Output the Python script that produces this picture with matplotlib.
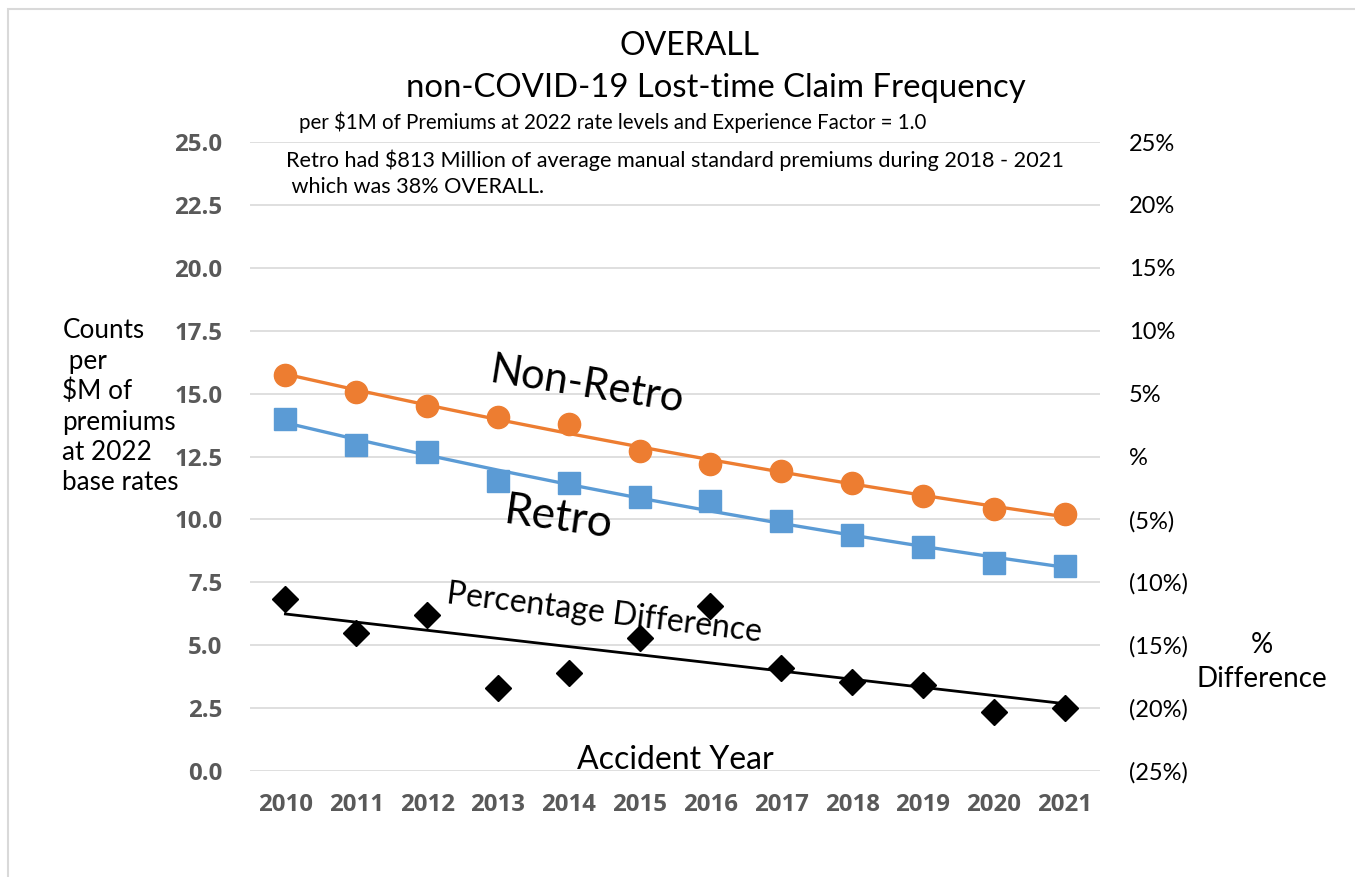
import numpy as np
import matplotlib.pyplot as plt
from matplotlib.patches import Rectangle

plt.rcParams['font.family'] = ['Lato', 'DejaVu Sans']

years = ['2010', '2011', '2012', '2013', '2014', '2015',
         '2016', '2017', '2018', '2019', '2020', '2021']
non_retro = [15.74, 15.06, 14.51, 14.07, 13.79, 12.72, 12.20, 11.92, 11.45, 10.93, 10.41, 10.21]
retro = [13.99, 12.96, 12.68, 11.53, 11.45, 10.89, 10.73, 9.94, 9.38, 8.90, 8.27, 8.15]
pct_diff = [-11.3, -14.0, -12.6, -18.4, -17.2, -14.4, -11.9, -16.8, -17.9, -18.2, -20.3, -20.0]

left_ticks = [0, 2.5, 5, 7.5, 10, 12.5, 15, 17.5, 20, 22.5, 25]
right_ticks = [-25, -20, -15, -10, -5, 0, 5, 10, 15, 20, 25]
right_labels = ['(25%)', '(20%)', '(15%)', '(10%)', '(5%)', '%', '5%', '10%', '15%', '20%', '25%']

orange = '#ED7D31'
blue = '#5B9BD5'
grey = '#595959'

x = np.arange(len(years))

# trend lines: exponential for the frequencies, linear for the difference
def exp_trend(y):
    b, a = np.polyfit(x, np.log(y), 1)
    return np.exp(a + b * x)

nr_fit = exp_trend(non_retro)
r_fit = exp_trend(retro)
pd_fit = np.polyval(np.polyfit(x, pct_diff, 1), x)

fig = plt.figure(figsize=(13.55, 8.77), dpi=100)
ax = fig.add_axes([0.1845, 0.1209, 0.6273, 0.7171])
ax2 = ax.twinx()

ax.set_xlim(-0.5, len(years) - 0.5)
ax.set_ylim(0, 25)
ax2.set_ylim(-25, 25)

for v in left_ticks:
    ax.axhline(v, color='#D9D9D9', linewidth=1.2, zorder=0)

ax.plot(x, nr_fit, color=orange, linewidth=2.4, zorder=2)
ax.plot(x, non_retro, 'o', color=orange, markersize=16, zorder=3)
ax.plot(x, r_fit, color=blue, linewidth=2.4, zorder=2)
ax.plot(x, retro, 's', color=blue, markersize=15.5, zorder=3)
ax2.plot(x, pd_fit, color='black', linewidth=2.0, zorder=2)
ax2.plot(x, pct_diff, 'D', color='black', markersize=13.5, zorder=3)

for a in (ax, ax2):
    for s in a.spines.values():
        s.set_visible(False)
    a.tick_params(length=0)

ax.tick_params(axis='y', pad=20)
ax.tick_params(axis='x', pad=16)
ax2.tick_params(axis='y', pad=21)

bold_font = dict(family=['Open Sans', 'DejaVu Sans'], fontsize=17.3, fontweight='bold', color=grey)
ax.set_yticks(left_ticks)
ax.set_yticklabels([f'{v:.1f}' for v in left_ticks], **bold_font)
ax.set_xticks(x)
ax.set_xticklabels(years, **bold_font)
ax2.set_yticks(right_ticks)
ax2.set_yticklabels(right_labels, fontsize=17, color='black')

# titles and notes
fig.text(0.509, 0.948, 'OVERALL', ha='center', va='center', fontsize=23)
fig.text(0.528, 0.900, 'non-COVID-19 Lost-time Claim Frequency', ha='center', va='center', fontsize=23.7)
fig.text(0.452, 0.861, 'per $1M of Premiums at 2022 rate levels and Experience Factor = 1.0',
         ha='center', va='center', fontsize=14.8)
fig.text(0.211, 0.817, 'Retro had $813 Million of average manual standard premiums during 2018 - 2021',
         ha='left', va='center', fontsize=15.6)
fig.text(0.211, 0.787, ' which was 38% OVERALL.', ha='left', va='center', fontsize=15.6)

fig.text(0.046, 0.637, 'Counts\n per\n$M of\npremiums\nat 2022\nbase rates',
         ha='left', va='top', fontsize=18.8, linespacing=1.26)
fig.text(0.931, 0.245, '%\nDifference', ha='center', va='center',
         fontsize=20, linespacing=1.4)

# series labels
ax.text(4.25, 15.33, 'Non-Retro', fontsize=30, rotation=-9, ha='center', va='center')
ax.text(3.86, 10.05, 'Retro', fontsize=32, rotation=-8, ha='center', va='center')
ax.text(4.5, 6.25, 'Percentage Difference', fontsize=23, rotation=-7, ha='center', va='center')
ax.text(5.5, 0.42, 'Accident Year', fontsize=23, ha='center', va='center')

fig.add_artist(Rectangle((0.006, -0.01), 1.0, 1.0, transform=fig.transFigure,
                         fill=False, edgecolor='#D9D9D9', linewidth=1.5))

fig.savefig('out.png', dpi=100)
